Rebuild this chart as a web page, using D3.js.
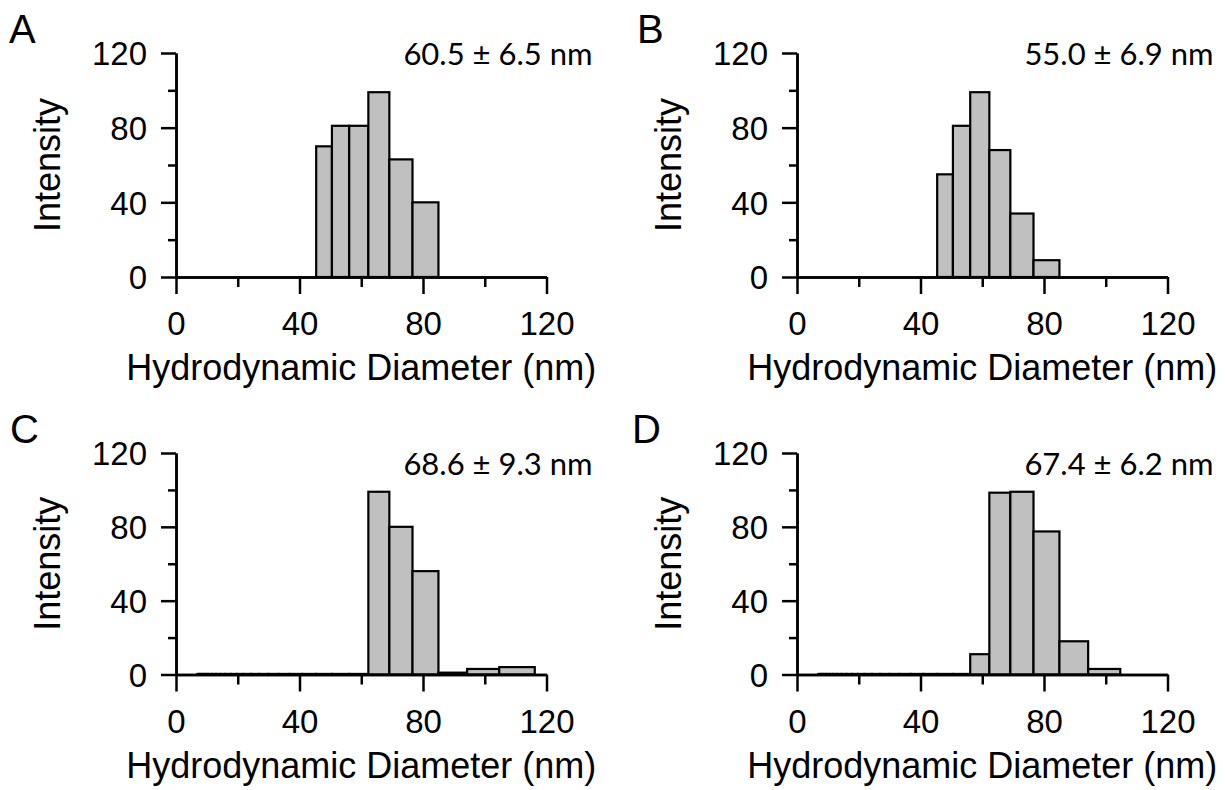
<!DOCTYPE html>
<html>
<head>
<meta charset="utf-8">
<script src="https://cdn.jsdelivr.net/npm/d3@7"></script>
<style>
  html, body { margin: 0; padding: 0; background: #fff; }
  svg { display: block; }
  .tick text { font-family: "Liberation Sans", Arial, sans-serif; }
</style>
</head>
<body>
<svg id="fig" width="1225" height="790"></svg>
<script>
// Size bins (nm), shared by all four distributions
const binEdges = [6.94, 7.70, 8.55, 9.49, 10.53, 11.69, 12.98, 14.40, 15.99, 17.75,
  19.70, 21.87, 24.27, 26.94, 29.91, 33.20, 36.85, 40.90, 45.40, 50.50,
  56.10, 62.30, 69.10, 76.60, 85.00, 94.30, 104.70, 116.20];

// Intensity per bin for each sample
const intensityA = [0, 0, 0, 0, 0, 0, 0, 0, 0, 0, 0, 0, 0, 0, 0, 0, 0, 0,
  70, 81, 81, 99, 63, 40, 0, 0, 0];
const intensityB = [0, 0, 0, 0, 0, 0, 0, 0, 0, 0, 0, 0, 0, 0, 0, 0, 0, 0,
  55, 81, 99, 68, 34, 9, 0, 0, 0];
const intensityC = [0.3, 0.3, 0.3, 0.3, 0.3, 0.3, 0.3, 0.3, 0.3, 0.3, 0.3, 0.3, 0.3, 0.3, 0.3, 0.3, 0.3, 0.3,
  0.3, 0.3, 0.3, 99, 80, 56, 1, 3, 4];
const intensityD = [0.3, 0.3, 0.3, 0.3, 0.3, 0.3, 0.3, 0.3, 0.3, 0.3, 0.3, 0.3, 0.3, 0.3, 0.3, 0.3, 0.3, 0.3,
  0.3, 0.3, 11, 98.5, 99, 77.5, 18, 3, 0];

const panelLetters = ["A", "B", "C", "D"];
const sizeLabels = ["60.5 \u00B1 6.5 nm", "55.0 \u00B1 6.9 nm", "68.6 \u00B1 9.3 nm", "67.4 \u00B1 6.2 nm"];

const xMajorTicks = [0, 40, 80, 120];
const xMinorTicks = [20, 60, 100];
const yMajorTicks = [0, 40, 80, 120];
const yMinorTicks = [20, 60, 100];

const xTitle = "Hydrodynamic Diameter (nm)";
const yTitle = "Intensity";

const series = [intensityA, intensityB, intensityC, intensityD];

// Plot-area frames for the 2x2 grid
const frames = [
  { left: 176, top: 53,  width: 370.5, height: 224 },
  { left: 797, top: 53,  width: 370.5, height: 224 },
  { left: 176, top: 453, width: 370.5, height: 221.5 },
  { left: 797, top: 453, width: 370.5, height: 221.5 }
];
const letterPos = [[9, 43], [637, 43], [10, 443], [632, 443]];
const noteBaseline = [65, 65, 475, 475];

const svg = d3.select("#fig");
const FONT = '"Liberation Sans", Arial, sans-serif';
const AXIS_W = 2.5;

series.forEach((vals, i) => {
  const f = frames[i];
  const g = svg.append("g").attr("transform", `translate(${f.left},${f.top})`);

  const x = d3.scaleLinear().domain([0, 120]).range([0, f.width]);
  const y = d3.scaleLinear().domain([0, 120]).range([f.height, 0]);

  // histogram bars
  const bins = vals.map((v, k) => ({ x0: binEdges[k], x1: binEdges[k + 1], v }))
    .filter(d => d.v > 0);
  g.append("g").selectAll("rect").data(bins).join("rect")
    .attr("x", d => x(d.x0))
    .attr("width", d => x(d.x1) - x(d.x0))
    .attr("y", d => y(d.v))
    .attr("height", d => y(0) - y(d.v))
    .attr("fill", "#c0c0c0")
    .attr("stroke", "#000")
    .attr("stroke-width", 2.2);

  // x axis: major ticks with labels, minor ticks without
  const xAxisMaj = d3.axisBottom(x).tickValues(xMajorTicks).tickSize(17)
    .tickSizeOuter(0).tickPadding(18).tickFormat(d3.format("d"));
  const xAxisMin = d3.axisBottom(x).tickValues(xMinorTicks).tickSize(10)
    .tickSizeOuter(0).tickFormat("");
  const gxMin = g.append("g").attr("transform", `translate(0,${f.height})`).call(xAxisMin);
  const gx = g.append("g").attr("transform", `translate(0,${f.height})`).call(xAxisMaj);

  // y axis
  const yAxisMaj = d3.axisLeft(y).tickValues(yMajorTicks).tickSize(15)
    .tickSizeOuter(0).tickPadding(14).tickFormat(d3.format("d"));
  const yAxisMin = d3.axisLeft(y).tickValues(yMinorTicks).tickSize(8)
    .tickSizeOuter(0).tickFormat("");
  const gyMin = g.append("g").call(yAxisMin);
  const gy = g.append("g").call(yAxisMaj);

  [gx, gxMin, gy, gyMin].forEach(a => {
    a.selectAll("path.domain").attr("stroke", "#000").attr("stroke-width", AXIS_W);
    a.selectAll(".tick line").attr("stroke", "#000").attr("stroke-width", AXIS_W);
    a.selectAll(".tick text").attr("fill", "#000").attr("font-size", 33).attr("font-family", FONT);
  });
  gy.selectAll(".tick text").attr("dy", "0.36em");

  // axis titles
  g.append("text")
    .attr("x", f.width / 2)
    .attr("y", f.height + 103)
    .attr("text-anchor", "middle")
    .attr("font-family", FONT)
    .attr("font-size", 36)
    .attr("fill", "#000")
    .text(xTitle);

  g.append("text")
    .attr("transform", `translate(${-129},${f.height / 2}) rotate(-90)`)
    .attr("text-anchor", "middle")
    .attr("dominant-baseline", "central")
    .attr("font-family", FONT)
    .attr("font-size", 36)
    .attr("fill", "#000")
    .text(yTitle);

  // mean ± SD annotation
  svg.append("text")
    .attr("x", f.left + f.width + 46)
    .attr("y", noteBaseline[i])
    .attr("text-anchor", "end")
    .attr("font-family", "Lato, 'Open Sans', sans-serif")
    .attr("font-size", 31)
    .attr("fill", "#000")
    .text(sizeLabels[i]);

  // panel letter
  svg.append("text")
    .attr("x", letterPos[i][0])
    .attr("y", letterPos[i][1])
    .attr("font-family", FONT)
    .attr("font-size", 40)
    .attr("fill", "#000")
    .text(panelLetters[i]);
});
</script>
</body>
</html>
